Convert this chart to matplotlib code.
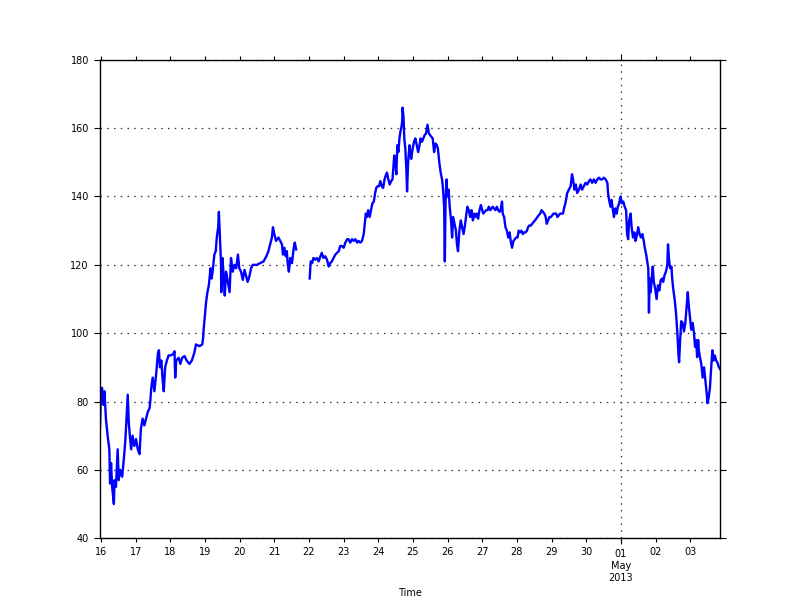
import numpy as np
import pandas as pd
import matplotlib
matplotlib.use("Agg")
import matplotlib.pyplot as plt
import matplotlib.dates as mdates
from matplotlib.ticker import FuncFormatter

# day of April 2013 (31 = 01 May, 32 = 02 May, ...) and price
seg1_days = [
    15.97, 15.99, 16.03, 16.07, 16.10, 16.14, 16.19, 16.24, 16.26, 16.29,
    16.32, 16.37, 16.39, 16.43, 16.48, 16.51, 16.55, 16.61, 16.67, 16.70,
    16.73, 16.77, 16.80, 16.83, 16.87, 16.91, 16.96, 17.01, 17.06, 17.11,
    17.15, 17.20, 17.25, 17.30, 17.35, 17.40, 17.42, 17.45, 17.49, 17.54,
    17.59, 17.64, 17.67, 17.70, 17.74, 17.78, 17.81, 17.85, 17.90, 17.95,
    18.02, 18.09, 18.12, 18.14, 18.17, 18.24, 18.29, 18.34, 18.41, 18.47,
    18.55, 18.62, 18.69, 18.74, 18.84, 18.92, 18.95, 18.96, 18.99, 19.03,
    19.07, 19.11, 19.16, 19.19, 19.22, 19.27, 19.31, 19.34, 19.38, 19.40,
    19.43, 19.46, 19.47, 19.50, 19.54, 19.57, 19.61, 19.66, 19.71, 19.75,
    19.80, 19.85, 19.90, 19.95, 19.99, 20.04, 20.09, 20.14, 20.19, 20.23,
    20.28, 20.33, 20.38, 20.46, 20.50, 20.59, 20.69, 20.77, 20.83, 20.88,
    20.93, 20.96, 21.00, 21.05, 21.12, 21.17, 21.22, 21.25, 21.29, 21.33,
    21.36, 21.39, 21.42, 21.46, 21.51, 21.56, 21.59, 21.63,
]
seg1_price = [
    72.5, 80, 84, 79, 83, 75, 70, 66, 56, 62,
    55, 50, 57, 55, 66, 57, 60, 58, 64.6, 68.5,
    74, 82, 74, 70, 66, 70, 67, 69, 66, 64.6,
    72, 75, 73, 75, 77, 78, 80, 84, 87, 83,
    88, 94, 95, 90, 92, 86, 83, 90, 92, 93.5,
    93.5, 94, 94.7, 87, 92, 92.8, 91, 92.8, 93.3, 92,
    91, 92, 94.2, 96.7, 96.2, 96.7, 99, 101, 104.5, 109,
    112, 114, 119, 116, 118, 123, 124, 128, 131, 135.5,
    128, 121, 112, 122, 117, 111, 118, 115, 112, 122,
    118, 120, 119, 123, 119, 118, 115.6, 118.5, 116.6, 115,
    116.6, 119, 120, 120, 120, 120.5, 121, 122.5, 124, 126,
    128, 131, 129, 127, 128, 127, 126, 123, 125, 122.5,
    124, 120, 118, 122, 120.5, 125, 126.5, 124.5,
]

seg2_days = [
    22.02, 22.05, 22.09, 22.13, 22.18, 22.23, 22.28, 22.33, 22.37, 22.42,
    22.47, 22.52, 22.57, 22.61, 22.66, 22.71, 22.76, 22.81, 22.86, 22.90,
    22.95, 23.00, 23.05, 23.10, 23.14, 23.19, 23.24, 23.29, 23.34, 23.39,
    23.43, 23.48, 23.53, 23.58, 23.61, 23.64, 23.67, 23.71, 23.75, 23.79,
    23.83, 23.87, 23.91, 23.94, 23.98, 24.02, 24.06, 24.10, 24.14, 24.18,
    24.21, 24.25, 24.29, 24.33, 24.37, 24.41, 24.44, 24.46, 24.49, 24.52,
    24.55, 24.58, 24.61, 24.64, 24.67, 24.69, 24.70, 24.73, 24.75, 24.78,
    24.81, 24.83, 24.86, 24.90, 24.92, 24.95, 24.99, 25.03, 25.07, 25.11,
    25.15, 25.19, 25.22, 25.26, 25.30, 25.34, 25.38, 25.42, 25.46, 25.49,
    25.53, 25.57, 25.61, 25.65, 25.69, 25.72, 25.76, 25.80, 25.84, 25.87,
    25.90, 25.92, 25.94, 25.97, 25.99, 26.03, 26.06, 26.10, 26.13, 26.16,
    26.20, 26.24, 26.27, 26.30, 26.34, 26.38, 26.42, 26.46, 26.50, 26.53,
    26.57, 26.61, 26.65, 26.69, 26.73, 26.77, 26.80, 26.84, 26.88, 26.92,
    26.96, 27.00, 27.03, 27.07, 27.11, 27.15, 27.19, 27.23, 27.27, 27.30,
    27.34, 27.38, 27.42, 27.46, 27.50, 27.53, 27.57, 27.59, 27.63, 27.67,
    27.71, 27.75, 27.79, 27.82, 27.86, 27.90, 27.94, 27.98, 28.02, 28.05,
    28.09, 28.13, 28.17, 28.21, 28.25, 28.29, 28.32, 28.36, 28.40, 28.44,
    28.48, 28.52, 28.56, 28.59, 28.63, 28.67, 28.71, 28.75, 28.79, 28.83,
    28.86, 28.90, 28.94, 28.98, 29.02, 29.06, 29.09, 29.13, 29.17, 29.21,
    29.25, 29.29, 29.33, 29.37, 29.40, 29.45, 29.50, 29.55, 29.59, 29.62,
    29.66, 29.70, 29.74, 29.79, 29.84, 29.88, 29.93, 29.98, 30.03, 30.08,
    30.12, 30.17, 30.22, 30.27, 30.32, 30.37, 30.41, 30.46, 30.51, 30.56,
    30.61, 30.63, 30.66, 30.70, 30.73, 30.77, 30.80, 30.84, 30.88, 30.91,
    30.95, 30.99, 31.03, 31.07, 31.11, 31.15, 31.18, 31.21, 31.24, 31.28,
    31.31, 31.35, 31.39, 31.42, 31.46, 31.50, 31.54, 31.58, 31.62, 31.66,
    31.69, 31.73, 31.76, 31.79, 31.80, 31.81, 31.83, 31.86, 31.89, 31.92,
    31.95, 31.99, 32.03, 32.07, 32.11, 32.15, 32.19, 32.22, 32.26, 32.30,
    32.34, 32.36, 32.39, 32.42, 32.46, 32.48, 32.51, 32.55, 32.59, 32.63,
    32.66, 32.68, 32.71, 32.74, 32.78, 32.82, 32.86, 32.90, 32.93, 32.96,
    33.00, 33.03, 33.07, 33.11, 33.14, 33.17, 33.20, 33.23, 33.25, 33.28,
    33.32, 33.36, 33.40, 33.44, 33.48, 33.50, 33.53, 33.57, 33.60, 33.64,
    33.67, 33.71, 33.75, 33.78, 33.83, 33.86,
]
seg2_price = [
    116, 121, 120.5, 122, 121.5, 122, 121, 122.5, 123.5, 122,
    122.5, 121.5, 119.5, 120.5, 121, 122, 123, 123.5, 124, 125.5,
    125.5, 125, 126.5, 127.5, 127.5, 126.5, 127.5, 127, 127.5, 126.5,
    127, 126.5, 127, 129, 132, 135, 134, 136, 134, 136,
    138, 138.5, 141, 142.5, 143, 143, 144.5, 143, 142.5, 145,
    146, 147, 145, 143.5, 144.5, 145, 149, 152, 150, 146.5,
    155, 153, 157, 159, 160.5, 162, 166, 163, 157, 154,
    148, 141.5, 150, 155, 153, 151, 154, 156, 157, 155,
    153, 155, 157, 156, 157, 158, 158.5, 161, 158.5, 158,
    157.5, 157, 153, 155.5, 155, 154, 150, 147, 145, 142,
    137, 121, 138, 145, 140, 142, 137, 133, 128, 134,
    132, 130, 126, 124, 130, 133, 131, 129, 131.5, 134,
    137, 136, 134, 136, 133, 135, 134, 135, 133.5, 136,
    137.5, 136, 135, 135.5, 136, 136, 137, 136, 136.5, 137,
    136.5, 136, 137, 136, 135.5, 136, 138.5, 135, 134, 131,
    130, 128, 129.5, 127, 125, 127, 127.5, 128, 128, 130,
    129.5, 130, 129, 129.5, 129.5, 130, 131, 131.5, 131.5, 132,
    132.5, 133, 133.5, 134, 134.5, 135, 136, 135.5, 135, 134,
    132, 133, 134, 134, 134.5, 135, 135, 135, 134, 134.5,
    135, 135, 135, 137, 138, 141, 142, 143, 146.5, 145,
    142, 143.5, 141, 142, 143.5, 142, 143, 144, 143.5, 144.5,
    145, 144, 145, 144, 145, 145.5, 145, 145, 145.5, 145,
    144, 141, 139, 137, 139, 136, 134, 136.5, 135, 137,
    138, 140, 138, 138.5, 137, 136, 129, 127.5, 133, 135,
    131, 128, 129.5, 127, 128.5, 131, 129, 128, 129, 127,
    125, 123, 121, 119, 114, 106, 116, 112, 116, 119.5,
    115, 113, 110, 114, 112.5, 115.5, 116, 115, 117, 118,
    120, 126, 121.5, 119, 119.5, 116, 113, 110, 106, 100,
    94, 91.5, 98, 103.5, 103, 100.5, 103, 108, 112, 108,
    104, 101, 103, 100, 96, 98, 93, 98, 95, 93,
    91, 87, 90, 86, 82, 79.5, 81, 84, 89, 95,
    92, 93.5, 92, 91.5, 90, 89.5,
]

y_ticks = [40, 60, 80, 100, 120, 140, 160, 180]

# join the two pieces with a gap (no trades on the evening of the 21st)
days = np.array(seg1_days + [21.8] + seg2_days)
price = np.array(seg1_price + [np.nan] + seg2_price)
times = pd.Timestamp("2013-04-01") + pd.to_timedelta(days - 1, unit="D")

fig = plt.figure(figsize=(8, 5.98), dpi=100)
ax = fig.add_subplot(111)
fig.subplots_adjust(left=0.125, right=0.9, bottom=0.1, top=0.9)

ax.plot(times, price, color="#0000ff", linewidth=1.7)

ax.set_xlim(times[0], times[-1])
ax.set_ylim(40, 180)
ax.set_yticks(y_ticks)

ax.xaxis.set_major_locator(mdates.MonthLocator())
ax.xaxis.set_major_formatter(mdates.DateFormatter("%d\n%b\n%Y"))
ax.xaxis.set_minor_locator(mdates.DayLocator())
ax.xaxis.set_minor_formatter(
    FuncFormatter(lambda x, pos: "" if mdates.num2date(x).day == 1
                  else mdates.num2date(x).strftime("%d")))

ax.tick_params(which="both", direction="out", top=True, right=True,
               labelsize=7, colors="black")
ax.tick_params(which="major", length=4.5, width=0.8)
ax.tick_params(which="minor", length=3, width=0.8)

# sparse dotted grid like the original
ax.grid(True, which="major", linestyle=(0, (1.2, 4.2)), color="#333333",
        linewidth=0.9)

for s in ax.spines.values():
    s.set_linewidth(1.0)
    s.set_color("black")

ax.set_xlabel("Time", fontsize=7)

fig.savefig("out.png", dpi=100)
